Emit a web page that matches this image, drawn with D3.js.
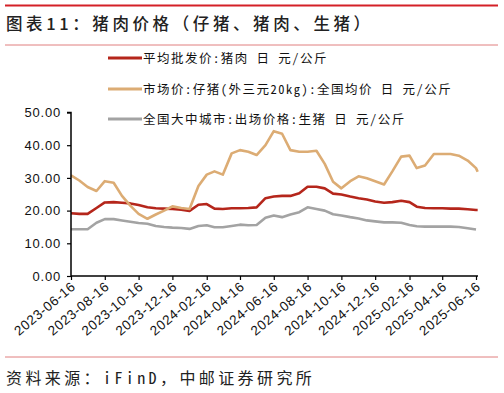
<!DOCTYPE html>
<html><head><meta charset="utf-8">
<script src="https://cdn.jsdelivr.net/npm/d3@7/dist/d3.min.js"></script>
<style>
html,body{margin:0;padding:0;background:#fff;}
svg{display:block;}
</style></head>
<body>
<script>
const title = "图表11：猪肉价格（仔猪、猪肉、生猪）";
const source = "资料来源：iFinD，中邮证券研究所";
const seriesNames = ["平均批发价:猪肉 日 元/公斤", "市场价:仔猪(外三元20kg):全国均价 日 元/公斤", "全国大中城市:出场价格:生猪 日 元/公斤"];
const yTicks = [0, 10, 20, 30, 40, 50];
const xTickLabels = ["2023-06-16","2023-08-16","2023-10-16","2023-12-16","2024-02-16","2024-04-16","2024-06-16","2024-08-16","2024-10-16","2024-12-16","2025-02-16","2025-04-16","2025-06-16"];
const dates = ["2023-06-16","2023-07-01","2023-07-16","2023-08-01","2023-08-16","2023-09-01","2023-09-16","2023-10-01","2023-10-16","2023-11-01","2023-11-16","2023-12-01","2023-12-16",
"2024-01-01","2024-01-16","2024-02-01","2024-02-16","2024-03-01","2024-03-16","2024-04-01","2024-04-16","2024-05-01","2024-05-16","2024-06-01","2024-06-16","2024-07-01","2024-07-16","2024-08-01","2024-08-16","2024-09-01","2024-09-16","2024-10-01","2024-10-16","2024-11-01","2024-11-16","2024-12-01","2024-12-16",
"2025-01-01","2025-01-16","2025-02-01","2025-02-16","2025-03-01","2025-03-16","2025-04-01","2025-04-16","2025-05-01","2025-05-16","2025-06-01","2025-06-16","2025-06-19"];
const pork = [19.2,19.0,19.0,20.8,22.5,22.6,22.4,22.2,21.7,21.0,20.7,20.6,20.5,
20.3,19.9,21.8,22.0,20.6,20.5,20.7,20.7,20.8,21.0,23.8,24.3,24.5,24.5,25.3,27.3,27.3,26.8,25.2,24.9,24.3,23.8,23.4,22.8,
22.4,22.6,23.0,22.6,21.2,20.8,20.7,20.7,20.6,20.6,20.4,20.2,20.2];
const piglet = [30.8,29.2,27.2,26.0,29.0,28.5,24.5,21.5,19.0,17.5,18.8,20.0,21.3,
20.8,20.5,27.5,31.0,32.0,31.0,37.5,38.5,38.0,37.0,40.0,44.3,43.5,38.5,38.0,38.0,38.3,34.3,28.8,26.8,29.0,30.5,29.9,29.0,
28.0,32.0,36.5,36.8,33.0,33.8,37.3,37.3,37.3,36.8,35.3,33.0,31.9];
const hog = [14.3,14.3,14.3,16.3,17.4,17.4,17.0,16.6,16.2,16.0,15.3,15.0,14.8,
14.7,14.4,15.3,15.5,14.9,14.9,15.3,15.7,15.5,15.6,17.8,18.5,18.0,18.8,19.5,21.0,20.5,20.0,18.9,18.5,18.0,17.6,17.0,16.7,
16.4,16.4,16.3,15.6,15.2,15.1,15.1,15.1,15.1,15.0,14.6,14.2,null];
const colors = ["#b5261b", "#dcac74", "#a3a3a3"];

const W = 504, H = 393;
const parse = d3.timeParse("%Y-%m-%d");
const svg = d3.select("body").append("svg").attr("width", W).attr("height", H);

const x = d3.scaleTime().domain([parse("2023-06-16"), parse("2025-06-16")]).range([71, 476]);
const y = d3.scaleLinear().domain([0, 50]).range([276, 112.5]);

// header / footer rules
svg.append("line").attr("x1",5).attr("x2",498).attr("y1",5.5).attr("y2",5.5).attr("stroke","#d42027").attr("stroke-width",2);
svg.append("line").attr("x1",5).attr("x2",498).attr("y1",45).attr("y2",45).attr("stroke","#e07f7f").attr("stroke-width",1);
svg.append("line").attr("x1",5).attr("x2",498).attr("y1",357).attr("y2",357).attr("stroke","#e07f7f").attr("stroke-width",1);

const cjk = "'Noto Sans CJK SC','Noto Sans',sans-serif";
const mono = "'Noto Sans Mono CJK SC','Noto Sans CJK SC',sans-serif";
svg.append("text").attr("x",6).attr("y",30).text(title)
  .attr("font-family",cjk).attr("font-size",16.5).attr("font-weight",500).attr("letter-spacing","3.6px").attr("fill","#222");
svg.append("text").attr("x",6).attr("y",384).text(source)
  .attr("font-family",mono).attr("font-size",16).attr("letter-spacing","3.4px").attr("fill","#222");

// lines
const seriesData = [pork, piglet, hog];
const line = d3.line().defined(d => d[1] != null).x(d => x(parse(d[0]))).y(d => y(d[1]));
seriesData.forEach((vals, i) => {
  const pts = dates.map((d, j) => [d, vals[j]]);
  svg.append("path").datum(pts).attr("d", line).attr("fill","none")
    .attr("stroke", colors[i]).attr("stroke-width", 2.6).attr("stroke-linejoin","round");
});

// y axis
const yAxis = d3.axisLeft(y).tickValues(yTicks).tickSize(4).tickPadding(6).tickFormat(d3.format(".2f"));
const gy = svg.append("g").attr("transform","translate(71,0)").call(yAxis);
gy.select(".domain").attr("stroke","#000").attr("stroke-width",1.5).attr("d","M-4,112.5H0V276");
gy.selectAll(".tick line").attr("stroke","#000").attr("stroke-width",1.2);
gy.selectAll("text").attr("font-family","'Liberation Sans',Arial,sans-serif").attr("font-size",13).attr("letter-spacing","0.8px").attr("fill","#111");

// x axis
const xAxis = d3.axisBottom(x).tickValues(xTickLabels.map(parse)).tickSize(4).tickFormat(d3.timeFormat("%Y-%m-%d"));
const gx = svg.append("g").attr("transform","translate(0,276)").call(xAxis);
gx.select(".domain").attr("stroke","#000").attr("stroke-width",1.5).attr("d","M71,0H478");
gx.selectAll(".tick line").attr("stroke","#000").attr("stroke-width",1.2);
gx.selectAll("text").attr("font-family","'Liberation Sans',Arial,sans-serif").attr("font-size",13.5).attr("letter-spacing","0.6px").attr("fill","#111")
  .attr("text-anchor","end").attr("dy",0).attr("y",0)
  .attr("transform","translate(5,12) rotate(-40)");

// legend
const legY = [58, 89, 119];
seriesNames.forEach((name, i) => {
  svg.append("line").attr("x1",108).attr("x2",142).attr("y1",legY[i]).attr("y2",legY[i])
    .attr("stroke",colors[i]).attr("stroke-width",3);
  svg.append("text").attr("x",143).attr("y",legY[i]+4.5).text(name)
    .attr("font-family",mono).attr("font-size",12.5).attr("letter-spacing","1.5px")
    .style("white-space","pre").attr("fill","#111");
});
</script>
</body></html>
